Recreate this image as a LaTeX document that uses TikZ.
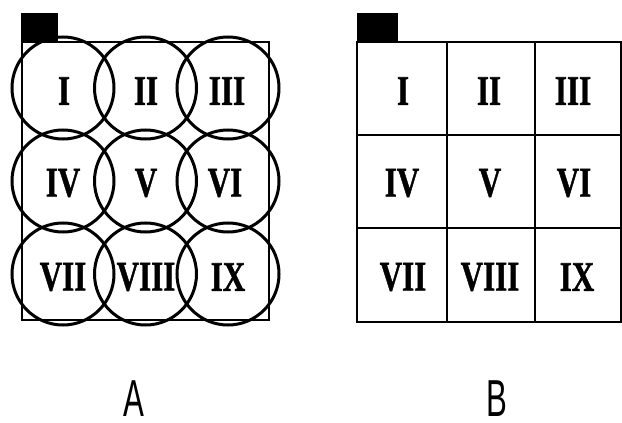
\documentclass[tikz,border=0pt]{standalone}
\usepackage{fontspec}
\setmainfont{Liberation Serif}
\newfontfamily\numfont[FakeBold=1.2]{Liberation Serif Bold}
\newfontfamily\capfont{Liberation Sans}
\tikzset{
  cellnum/.style={font=\numfont\fontsize{42}{42}\selectfont, xscale=0.74, inner sep=0pt},
  ring/.style={draw=black, line width=3pt},
  frame/.style={draw=black, line width=1.8pt},
  tab/.style={fill=black},
  panelcap/.style={font=\capfont\fontsize{52}{52}\selectfont, xscale=0.6, inner sep=0pt}
}
\begin{document}
\begin{tikzpicture}[x=1pt,y=-1pt]
\useasboundingbox (0,0) rectangle (622,423);
% ---------- Panel A ----------
\fill[tab] (21,13) rectangle (58,43);
\draw[frame] (22,42) rectangle (269,320);
\foreach \cx/\cy in {63/88,145.5/88,228/88,63/181,145.5/181,228/181,63/274,145.5/274,228/274}{
  \draw[ring] (\cx,\cy) circle (51);
}
\node[cellnum] (a1) at (64,91) {I};
\node[cellnum] (a2) at (146,91) {II};
\node[cellnum] (a3) at (227,91) {III};
\node[cellnum] (a4) at (63,183) {IV};
\node[cellnum] (a5) at (146,183) {V};
\node[cellnum] (a6) at (225,183) {VI};
\node[cellnum] (a7) at (63,277) {VII};
\node[cellnum] (a8) at (146,277) {VIII};
\node[cellnum] (a9) at (228,277) {IX};
% ---------- Panel B ----------
\fill[tab] (357,13) rectangle (398,43);
\draw[frame] (357,42) rectangle (621,322);
\draw[frame] (447,42) -- (447,322);
\draw[frame] (535,42) -- (535,322);
\draw[frame] (357,135) -- (621,135);
\draw[frame] (357,228) -- (621,228);
\node[cellnum] (b1) at (403,91) {I};
\node[cellnum] (b2) at (489,91) {II};
\node[cellnum] (b3) at (573,91) {III};
\node[cellnum] (b4) at (402,183) {IV};
\node[cellnum] (b5) at (490,183) {V};
\node[cellnum] (b6) at (574,183) {VI};
\node[cellnum] (b7) at (403,277) {VII};
\node[cellnum] (b8) at (490,277) {VIII};
\node[cellnum] (b9) at (577,277) {IX};
% ---------- Captions ----------
\node[panelcap] (capA) at (134,399) {A};
\node[panelcap] (capB) at (497,399) {B};
\end{tikzpicture}
\end{document}
